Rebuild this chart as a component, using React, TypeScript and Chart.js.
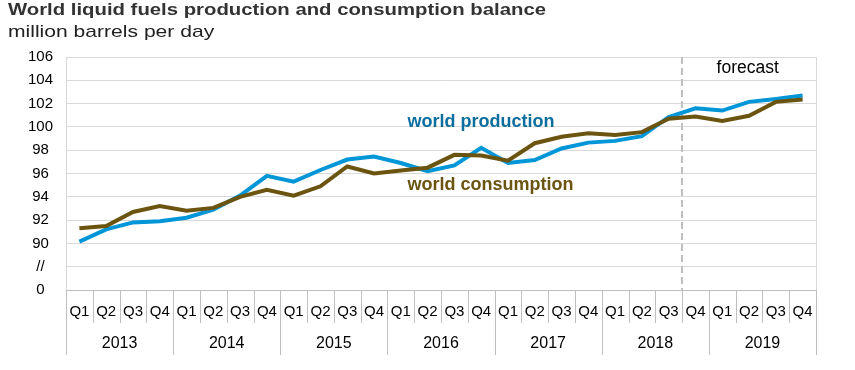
import { useEffect, useRef } from 'react';
import { Chart, registerables } from 'chart.js';

Chart.register(...registerables);

const years = ['2013', '2014', '2015', '2016', '2017', '2018', '2019'];
const quarters = ['Q1', 'Q2', 'Q3', 'Q4'];

const production = [
  90.15, 91.2, 91.8, 91.9, 92.2, 92.9, 94.1, 95.8,
  95.3, 96.3, 97.2, 97.45, 96.9, 96.2, 96.7, 98.2,
  96.9, 97.15, 98.15, 98.65, 98.8, 99.2, 100.85, 101.6,
  101.4, 102.15, 102.4, 102.7,
];
const consumption = [
  91.3, 91.5, 92.7, 93.2, 92.8, 93.05, 94.0, 94.6,
  94.1, 94.9, 96.6, 96.0, 96.25, 96.5, 97.6, 97.55,
  97.1, 98.6, 99.15, 99.45, 99.3, 99.55, 100.7, 100.9,
  100.5, 100.95, 102.15, 102.35,
];

const yMin = 86;
const yMax = 106;
const yStep = 2;
const yTickLabels: Record<number, string> = { 86: '0', 88: '//' };
const forecastStartIndex = 23;

const titleText = 'World liquid fuels production and consumption balance';
const subtitleText = 'million barrels per day';
const productionLabel = 'world production';
const consumptionLabel = 'world consumption';
const forecastLabel = 'forecast';

const FONT = '"Liberation Sans", Arial, Helvetica, sans-serif';
const BLUE = '#0096d7';
const BROWN = '#6b5310';
const BLUE_TEXT = '#0b6e9e';
const BROWN_TEXT = '#6b5310';
const GRID = '#d9d9d9';
const SEP = '#bfbfbf';

function stretchedText(ctx: CanvasRenderingContext2D, text: string, x: number, y: number, sx: number) {
  ctx.save();
  ctx.translate(x, y);
  ctx.scale(sx, 1);
  ctx.fillText(text, 0, 0);
  ctx.restore();
}

export default function App() {
  const ref = useRef<HTMLCanvasElement>(null);

  useEffect(() => {
    if (!ref.current) return;
    const labels = years.flatMap(() => quarters);

    const decor = {
      id: 'decor',
      beforeDatasetsDraw(chart: any) {
        const ctx = chart.ctx;
        const xs = chart.scales.x;
        const ys = chart.scales.y;
        const x =
          (xs.getPixelForValue(forecastStartIndex - 1) + xs.getPixelForValue(forecastStartIndex)) / 2;
        ctx.save();
        ctx.strokeStyle = '#bfbfbf';
        ctx.lineWidth = 2;
        ctx.setLineDash([7, 4]);
        ctx.beginPath();
        ctx.moveTo(Math.round(x), ys.top);
        ctx.lineTo(Math.round(x), ys.bottom);
        ctx.stroke();
        ctx.restore();
      },
      afterDraw(chart: any) {
        const ctx = chart.ctx;
        const xs = chart.scales.x;
        const x2 = chart.scales.x2;
        const ys = chart.scales.y;
        const area = chart.chartArea;
        const n = labels.length;
        const step = (xs.right - xs.left) / n;
        ctx.save();
        // right border of plot
        ctx.strokeStyle = GRID;
        ctx.lineWidth = 1;
        ctx.beginPath();
        ctx.moveTo(Math.round(area.right) + 0.5, area.top);
        ctx.lineTo(Math.round(area.right) + 0.5, area.bottom);
        ctx.stroke();
        // category separators
        ctx.strokeStyle = SEP;
        ctx.beginPath();
        for (let i = 0; i <= n; i++) {
          const x = Math.round(xs.left + i * step) + 0.5;
          const bottom = i % 4 === 0 ? x2.bottom : xs.bottom;
          ctx.moveTo(x, xs.top);
          ctx.lineTo(x, bottom);
        }
        ctx.stroke();

        // title & subtitle
        ctx.textAlign = 'left';
        ctx.textBaseline = 'alphabetic';
        ctx.fillStyle = '#333333';
        ctx.font = `bold 17px ${FONT}`;
        stretchedText(ctx, titleText, 8, 15, 1.195);
        ctx.fillStyle = '#222222';
        ctx.font = `17px ${FONT}`;
        stretchedText(ctx, subtitleText, 8, 37, 1.24);

        // series labels
        ctx.font = `bold 18px ${FONT}`;
        ctx.fillStyle = BLUE_TEXT;
        ctx.fillText(productionLabel, xs.left + step * 12.75, ys.getPixelForValue(100.02));
        ctx.fillStyle = BROWN_TEXT;
        ctx.fillText(consumptionLabel, xs.left + step * 12.75, ys.getPixelForValue(94.58));

        // forecast label
        ctx.font = `17.5px ${FONT}`;
        ctx.fillStyle = '#000000';
        ctx.textAlign = 'center';
        ctx.fillText(forecastLabel, xs.left + step * 25.45, ys.getPixelForValue(104.6));
        ctx.restore();
      },
    };

    const chart = new Chart(ref.current, {
      type: 'line',
      data: {
        labels,
        datasets: [
          {
            label: 'world consumption',
            data: consumption,
            borderColor: BROWN,
            backgroundColor: BROWN,
            borderWidth: 4,
            pointRadius: 0,
            tension: 0,
            order: 0,
          },
          {
            label: 'world production',
            data: production,
            borderColor: BLUE,
            backgroundColor: BLUE,
            borderWidth: 4,
            pointRadius: 0,
            tension: 0,
            order: 1,
          },
        ],
      },
      plugins: [decor],
      options: {
        responsive: false,
        animation: false,
        devicePixelRatio: 1,
        layout: { padding: { top: 57, right: 39, bottom: 15, left: 0 } },
        plugins: {
          legend: { display: false },
          tooltip: { enabled: false },
          title: { display: false },
        },
        scales: {
          x: {
            type: 'category',
            offset: true,
            weight: 0,
            grid: { display: false, drawTicks: false },
            border: { display: true, color: SEP },
            ticks: {
              autoSkip: false,
              maxRotation: 0,
              padding: 13,
              color: '#000',
              font: { family: FONT, size: 15 },
            },
            afterFit(scale: any) {
              scale.height = 33;
            },
          },
          x2: {
            type: 'category',
            position: 'bottom',
            labels: years,
            offset: true,
            weight: 1,
            grid: { display: false, drawTicks: false },
            border: { display: false },
            ticks: {
              autoSkip: false,
              maxRotation: 0,
              padding: 11,
              color: '#000',
              font: { family: FONT, size: 16 },
            },
            afterFit(scale: any) {
              scale.height = 32;
            },
          },
          y: {
            min: yMin,
            max: yMax,
            grid: { color: GRID, drawTicks: false },
            border: { display: true, color: GRID },
            ticks: {
              stepSize: yStep,
              padding: 13,
              crossAlign: 'center',
              color: '#000',
              font: { family: FONT, size: 15 },
              callback: (v: any) => (yTickLabels[v] !== undefined ? yTickLabels[v] : String(v)),
            },
            afterFit(scale: any) {
              scale.width = 66;
            },
          },
        },
      },
    });
    return () => chart.destroy();
  }, []);

  return (
    <div style={{ position: 'fixed', left: 0, top: 0, width: 855, height: 370, background: '#fff' }}>
      <canvas ref={ref} width={855} height={370} style={{ display: 'block', width: 855, height: 370 }} />
    </div>
  );
}
